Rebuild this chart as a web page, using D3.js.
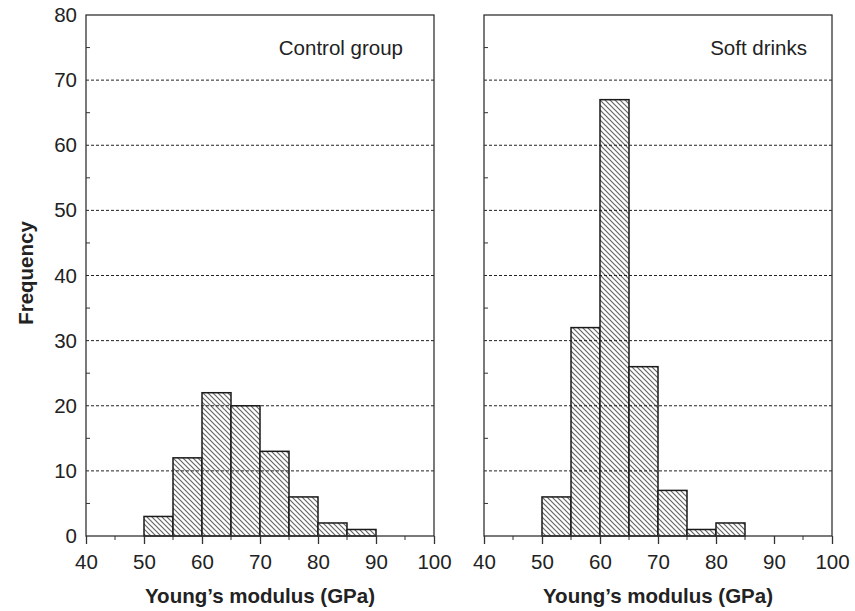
<!DOCTYPE html>
<html><head><meta charset="utf-8">
<script src="https://cdn.jsdelivr.net/npm/d3@7"></script>
<style>body{margin:0;background:#fff}text{font-family:"Liberation Sans",Arial,sans-serif}</style>
</head><body><svg id="c" width="855" height="611"></svg>
<script>
const binStarts = [50,55,60,65,70,75,80,85];
const binWidth = 5;
const controlValues = [3,12,22,20,13,6,2,1];
const softDrinkValues = [6,32,67,26,7,1,2,0];
const panelTitles = ["Control group","Soft drinks"];
const xTicks = [40,50,60,70,80,90,100];
const xMinorTicks = [45,55,65,75,85,95];
const yTicks = [0,10,20,30,40,50,60,70,80];
const yMinorTicks = [5,15,25,35,45,55,65,75];
const gridValues = [10,20,30,40,50,60,70];
const xTitle = "Young\u2019s modulus (GPa)";
const yTitle = "Frequency";

const FS = 20.5;
const svg = d3.select("#c");
const defs = svg.append("defs");
const S = 5;
const pat = defs.append("pattern").attr("id","hatch").attr("patternUnits","userSpaceOnUse")
  .attr("width",S).attr("height",S);
pat.append("rect").attr("width",S).attr("height",S).attr("fill","#fff");
pat.append("path").attr("d",`M-1,-1 L${S+1},${S+1} M-1,${S-1} L1,${S+1} M${S-1},-1 L${S+1},1`)
  .attr("stroke","#666").attr("stroke-width",1.2);

const plotTop = 15, plotBottom = 536;
const y = d3.scaleLinear().domain([0,80]).range([plotBottom, plotTop]);
const panels = [
  {x0:86, x1:434, vals:controlValues, title:panelTitles[0], labels:true, titleEnd:403},
  {x0:484, x1:832, vals:softDrinkValues, title:panelTitles[1], labels:false, titleEnd:807}
];
const axisColor = "#333";
panels.forEach(p => {
  const x = d3.scaleLinear().domain([40,100]).range([p.x0, p.x1]);
  const g = svg.append("g");
  const data = binStarts.map((s,i)=>({s, v:p.vals[i]})).filter(d=>d.v>0);
  g.selectAll(".bar").data(data).join("rect")
    .attr("x",d=>x(d.s)).attr("width",d=>x(d.s+binWidth)-x(d.s))
    .attr("y",d=>y(d.v)).attr("height",d=>y(0)-y(d.v))
    .attr("fill","url(#hatch)").attr("stroke","#1a1a1a").attr("stroke-width",1.5);
  g.selectAll(".grid").data(gridValues).join("line")
    .attr("x1",p.x0).attr("x2",p.x1).attr("y1",d=>y(d)).attr("y2",d=>y(d))
    .attr("stroke","#222").attr("stroke-width",1).attr("stroke-dasharray","3,2");
  g.append("rect").attr("x",p.x0).attr("y",plotTop).attr("width",p.x1-p.x0).attr("height",plotBottom-plotTop)
    .attr("fill","none").attr("stroke",axisColor).attr("stroke-width",1.3);
  g.selectAll(".ymt").data(yMinorTicks).join("line")
    .attr("x1",p.x0).attr("x2",p.x0+4).attr("y1",d=>y(d)).attr("y2",d=>y(d))
    .attr("stroke",axisColor).attr("stroke-width",1);
  const ax = d3.axisBottom(x).tickValues(xTicks).tickSize(8).tickPadding(5).tickFormat(d3.format("d"));
  const ag = g.append("g").attr("transform",`translate(0,${plotBottom})`).call(ax);
  ag.select(".domain").remove();
  ag.selectAll("line").attr("stroke",axisColor).attr("stroke-width",1.3);
  ag.selectAll("text").attr("font-size",FS).attr("fill","#222").attr("dy",null).attr("y",33)
    .attr("font-family","Liberation Sans, Arial, sans-serif");
  g.selectAll(".xmt").data(xMinorTicks).join("line")
    .attr("x1",d=>x(d)).attr("x2",d=>x(d)).attr("y1",plotBottom).attr("y2",plotBottom+4)
    .attr("stroke",axisColor).attr("stroke-width",1);
  if (p.labels) {
    const ay = d3.axisLeft(y).tickValues(yTicks).tickSize(0).tickPadding(9).tickFormat(d3.format("d"));
    const yg = g.append("g").attr("transform",`translate(${p.x0},0)`).call(ay);
    yg.select(".domain").remove();
    yg.selectAll("text").attr("font-size",FS).attr("fill","#222").attr("font-family","Liberation Sans, Arial, sans-serif");
  }
  g.append("text").attr("x",p.titleEnd).attr("y",55).attr("text-anchor","end")
    .attr("font-size",FS).attr("fill","#222").text(p.title);
  g.append("text").attr("x",(p.x0+p.x1)/2).attr("y",603).attr("text-anchor","middle")
    .attr("font-size",FS).attr("font-weight","bold").attr("fill","#222").text(xTitle);
});
svg.append("text").attr("transform",`translate(33,273) rotate(-90)`)
  .attr("text-anchor","middle").attr("font-size",FS).attr("font-weight","bold").attr("fill","#222").text(yTitle);
</script></body></html>
